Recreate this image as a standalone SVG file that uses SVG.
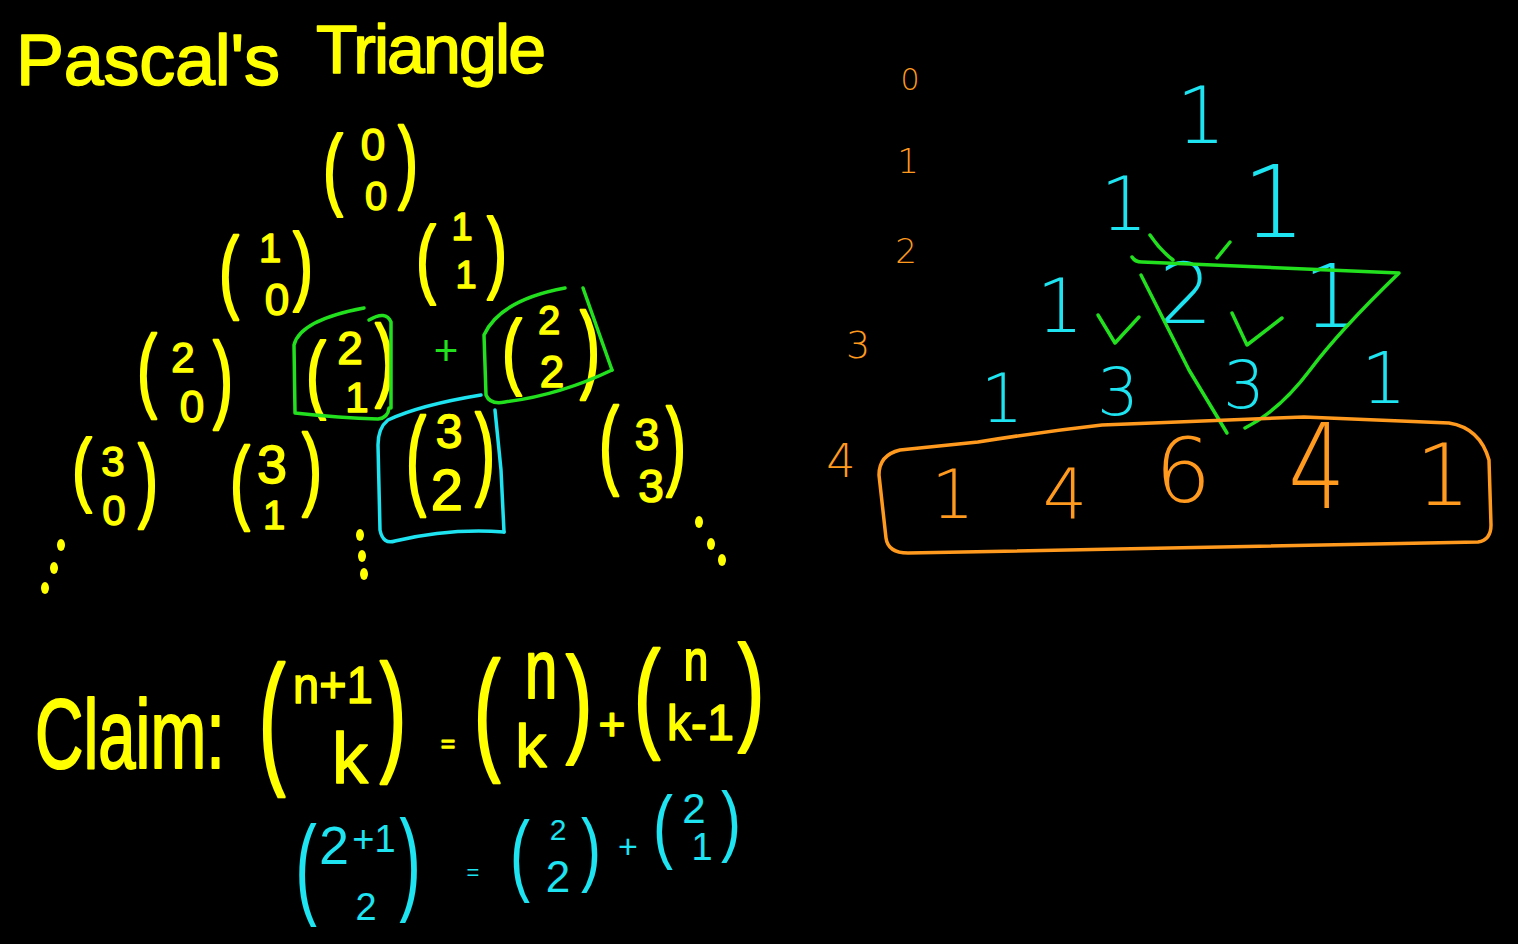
<svg xmlns="http://www.w3.org/2000/svg" width="1518" height="944" viewBox="0 0 1518 944">
<style>
.y{fill:#ffff00;font-family:"Liberation Sans",Arial,sans-serif;stroke:#ffff00;stroke-width:1.5;stroke-linejoin:round}
.yd{font-size:46px;text-anchor:middle}
.yp{font-size:60px;text-anchor:middle}
.c{fill:#1ee3f0;font-family:"DejaVu Sans",sans-serif;font-weight:200;text-anchor:middle}
.cl{fill:#1ee3f0;font-family:"Liberation Sans",Arial,sans-serif;text-anchor:middle}
.o{fill:#ff9a1e;font-family:"DejaVu Sans",sans-serif;font-weight:200;text-anchor:middle}
.g{fill:none;stroke:#22e01e;stroke-width:3.5;stroke-linecap:round;stroke-linejoin:round}
.cs{fill:none;stroke:#1ee3f0;stroke-width:3.5;stroke-linecap:round;stroke-linejoin:round}
.os{fill:none;stroke:#ff9a1e;stroke-width:3.5;stroke-linecap:round;stroke-linejoin:round}
.dot{fill:#ffff00}
</style>
<rect width="1518" height="944" fill="#000"/>

<g id="title">
<text class="y" x="16" y="85" font-size="72" textLength="264" lengthAdjust="spacing" stroke-width="1">Pascal's</text>
<text class="y" x="316" y="73" font-size="68" textLength="230" lengthAdjust="spacing" stroke-width="1">Triangle</text>
</g>

<g id="binomials">
<!-- (0 0) -->
<text class="y yp" transform="translate(333,198) scale(1,1.49)">(</text>
<text class="y yd"><tspan x="373" y="160" font-size="44">0</tspan><tspan x="376" y="210" font-size="40">0</tspan></text>
<text class="y yp" transform="translate(408,191) scale(1,1.51)">)</text>
<!-- (1 0) -->
<text class="y yp" transform="translate(229,301) scale(1,1.51)">(</text>
<text class="y yd"><tspan x="270" y="262" font-size="40">1</tspan><tspan x="277" y="315" font-size="44">0</tspan></text>
<text class="y yp" transform="translate(303,294) scale(1,1.46)">)</text>
<!-- (1 1) -->
<text class="y yp" transform="translate(426,287) scale(1,1.46)">(</text>
<text class="y yd"><tspan x="462" y="240" font-size="38">1</tspan><tspan x="466" y="288" font-size="38">1</tspan></text>
<text class="y yp" transform="translate(497,281) scale(1,1.47)">)</text>
<!-- (2 0) -->
<text class="y yp" transform="translate(147,400) scale(1,1.55)">(</text>
<text class="y yd"><tspan x="183" y="372" font-size="42">2</tspan><tspan x="192" y="422" font-size="44">0</tspan></text>
<text class="y yp" transform="translate(223,410) scale(1,1.6)">)</text>
<!-- (2 1) -->
<text class="y yp" transform="translate(316,402) scale(1,1.42)">(</text>
<text class="y yd"><tspan x="350" y="364" font-size="46">2</tspan><tspan x="357" y="412" font-size="42">1</tspan></text>
<text class="y yp" transform="translate(385,389) scale(1,1.51)">)</text>
<!-- (2 2) -->
<text class="y yp" transform="translate(512,379) scale(1,1.4)">(</text>
<text class="y yd"><tspan x="549" y="334" font-size="40">2</tspan><tspan x="552" y="387" font-size="44">2</tspan></text>
<text class="y yp" transform="translate(590,380) scale(1,1.6)">)</text>
<!-- (3 0) -->
<text class="y yp" transform="translate(82,496) scale(1,1.35)">(</text>
<text class="y yd"><tspan x="113" y="476" font-size="42">3</tspan><tspan x="114" y="525" font-size="42">0</tspan></text>
<text class="y yp" transform="translate(148,510) scale(1,1.56)">)</text>
<!-- (3 1) -->
<text class="y yp" transform="translate(240,512) scale(1,1.55)">(</text>
<text class="y yd"><tspan x="272" y="483" font-size="54">3</tspan><tspan x="274" y="529" font-size="40">1</tspan></text>
<text class="y yp" transform="translate(312,498) scale(1,1.51)">)</text>
<!-- (3 2) -->
<text class="y yp" transform="translate(416,494) scale(1,1.81)">(</text>
<text class="y yd"><tspan x="449" y="448" font-size="48">3</tspan><tspan x="447" y="510" font-size="58">2</tspan></text>
<text class="y yp" transform="translate(485,486) scale(1,1.69)">)</text>
<!-- (3 3) -->
<text class="y yp" transform="translate(609,476) scale(1,1.63)">(</text>
<text class="y yd"><tspan x="647" y="450" font-size="44">3</tspan><tspan x="651" y="502" font-size="46">3</tspan></text>
<text class="y yp" transform="translate(676,477) scale(1,1.65)">)</text>
</g>

<g id="dots">
<ellipse class="dot" cx="61" cy="545" rx="4" ry="6"/>
<ellipse class="dot" cx="54" cy="568" rx="4" ry="6"/>
<ellipse class="dot" cx="45" cy="588" rx="4" ry="6"/>
<ellipse class="dot" cx="360" cy="535" rx="4" ry="6"/>
<ellipse class="dot" cx="362" cy="556" rx="4" ry="6"/>
<ellipse class="dot" cx="364" cy="574" rx="4" ry="6"/>
<ellipse class="dot" cx="699" cy="522" rx="4" ry="6"/>
<ellipse class="dot" cx="711" cy="544" rx="4" ry="6"/>
<ellipse class="dot" cx="722" cy="560" rx="4" ry="6"/>
</g>

<g id="highlights">
<path class="g" d="M364,308 Q300,320 294,345 L295,413 Q340,418 378,419 Q388,418 389,408"/>
<path class="g" d="M369,320 Q386,310 391,322 L391,408"/>
<text x="446" y="365" font-size="42" fill="#22e01e" font-family="Liberation Sans,Arial,sans-serif" text-anchor="middle">+</text>
<path class="g" d="M565,288 Q500,300 484,335 L486,395 Q490,405 505,402 Q560,395 612,370"/>
<path class="g" d="M583,288 L612,370"/>
<path class="cs" d="M481,395 Q420,405 388,420 Q378,428 378,445 L380,530 Q383,545 395,541 Q450,528 504,532"/>
<path class="cs" d="M495,410 L501,470 L504,532"/>
</g>

<g id="claim">
<text class="y" font-size="70" textLength="190" lengthAdjust="spacingAndGlyphs" stroke-width="1" transform="translate(35,768) scale(1,1.4)">Claim:</text>
<text class="y" font-size="80" text-anchor="middle" transform="translate(272,767) scale(1,1.81)">(</text>
<text class="y" x="293" y="703" font-size="52" textLength="80" lengthAdjust="spacingAndGlyphs">n+1</text>
<text class="y" x="350" y="783" font-size="72" text-anchor="middle">k</text>
<text class="y" font-size="80" text-anchor="middle" transform="translate(393,757) scale(1,1.64)">)</text>
<text class="y" x="448" y="752" font-size="24" text-anchor="middle">=</text>
<text class="y" font-size="80" text-anchor="middle" transform="translate(487,755) scale(1,1.68)">(</text>
<text class="y" font-size="58" text-anchor="middle" transform="translate(541,698) scale(1,1.45)">n</text>
<text class="y" x="531" y="767" font-size="62" text-anchor="middle">k</text>
<text class="y" font-size="80" text-anchor="middle" transform="translate(579,740) scale(1,1.49)">)</text>
<text class="y" x="612" y="740" font-size="46" text-anchor="middle">+</text>
<text class="y" font-size="80" text-anchor="middle" transform="translate(647,735) scale(1,1.51)">(</text>
<text class="y" font-size="44" text-anchor="middle" transform="translate(696,680) scale(1,1.3)">n</text>
<text class="y" x="667" y="740" font-size="50" textLength="67" lengthAdjust="spacingAndGlyphs">k-1</text>
<text class="y" font-size="80" text-anchor="middle" transform="translate(751,728) scale(1,1.48)">)</text>
</g>

<g id="example">
<text class="cl" font-size="50" transform="translate(306,904) scale(1.3,2.22)">(</text>
<text class="cl"><tspan x="334" y="864" font-size="54">2</tspan><tspan x="374" y="852" font-size="38">+1</tspan><tspan x="366" y="920" font-size="38">2</tspan></text>
<text class="cl" font-size="50" transform="translate(410,899) scale(1.3,2.26)">)</text>
<text class="cl" x="473" y="880" font-size="22">=</text>
<text class="cl" font-size="50" transform="translate(520,884) scale(1.2,1.77)">(</text>
<text class="cl"><tspan x="558" y="840" font-size="30">2</tspan><tspan x="558" y="892" font-size="44">2</tspan></text>
<text class="cl" font-size="50" transform="translate(591,876) scale(1.2,1.62)">)</text>
<text class="cl" x="628" y="858" font-size="34">+</text>
<text class="cl" font-size="50" transform="translate(663,853) scale(1.2,1.64)">(</text>
<text class="cl"><tspan x="694" y="823" font-size="42">2</tspan><tspan x="702" y="860" font-size="38">1</tspan></text>
<text class="cl" font-size="50" transform="translate(731,847) scale(1.2,1.56)">)</text>
</g>

<g id="row-labels">
<text class="o" x="910" y="90" font-size="30">0</text>
<text class="o" x="908" y="173" font-size="34">1</text>
<text class="o" x="906" y="263" font-size="34">2</text>
<text class="o" x="858" y="358" font-size="38">3</text>
<text class="o" x="841" y="477" font-size="46">4</text>
</g>

<g id="triangle-numbers">
<text class="c" x="1201" y="143" font-size="78">1</text>
<text class="c" x="1124" y="230" font-size="75">1</text>
<text class="c" x="1274" y="237" font-size="100">1</text>
<text class="c" x="1060" y="332" font-size="74">1</text>
<text class="c" x="1186" y="323" font-size="84">2</text>
<text class="c" x="1331" y="327" font-size="87">1</text>
<text class="c" x="1002" y="422" font-size="67">1</text>
<text class="c" x="1118" y="415" font-size="66">3</text>
<text class="c" x="1244" y="408" font-size="66">3</text>
<text class="c" x="1384" y="403" font-size="72">1</text>
</g>

<g id="green-marks">
<path class="g" d="M1150,235 Q1160,250 1173,260"/>
<path class="g" d="M1230,242 L1217,258"/>
<path class="g" d="M1132,257 Q1135,262 1142,262 L1399,273 Q1340,330 1310,370 Q1280,410 1245,428"/>
<path class="g" d="M1141,275 L1189,370 L1227,433"/>
<path class="g" d="M1098,315 L1115,343 L1139,317"/>
<path class="g" d="M1232,313 L1247,345 L1282,318"/>
</g>

<g id="row4">
<path class="os" d="M978,442 Q1040,432 1102,425 L1304,417 L1449,423 Q1480,428 1489,460 L1491,525 Q1491,540 1478,542 L908,553 Q888,553 886,538 L879,475 Q879,455 900,450 L978,442"/>
<text class="o" x="953" y="518" font-size="68">1</text>
<text class="o" x="1065" y="518" font-size="70">4</text>
<text class="o" x="1183" y="502" font-size="89">6</text>
<text class="o" font-size="90" transform="translate(1317,508) scale(1,1.3)">4</text>
<text class="o" x="1443" y="505" font-size="86">1</text>
</g>
</svg>
